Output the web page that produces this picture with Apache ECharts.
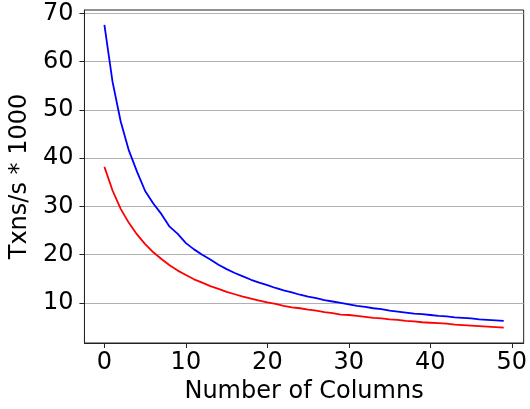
<!DOCTYPE html>
<html>
<head>
<meta charset="utf-8">
<script src="https://cdn.jsdelivr.net/npm/echarts@6/dist/echarts.min.js"></script>
<style>
  html, body { margin: 0; padding: 0; background: #fff; }
  #chart { width: 530px; height: 409px; }
</style>
</head>
<body>
<div id="chart"></div>
<script>
var columns = [];
for (var i = 0; i < 50; i++) columns.push(i);

var blueTxns = [67.6, 55.8, 47.6, 41.6, 37.2, 33.2, 30.6, 28.4, 25.8, 24.3,
                22.4, 21.1, 20.0, 19.0, 17.9, 17.0, 16.2, 15.5, 14.8, 14.2,
                13.7, 13.1, 12.6, 12.2, 11.7, 11.3, 11.0, 10.6, 10.3, 10.0,
                9.7, 9.4, 9.2, 8.9, 8.7, 8.4, 8.2, 8.0, 7.8, 7.7,
                7.5, 7.3, 7.2, 7.0, 6.9, 6.8, 6.6, 6.5, 6.4, 6.3];

var redTxns = [38.2, 33.3, 29.5, 26.6, 24.2, 22.2, 20.5, 19.1, 17.8, 16.7,
               15.8, 14.9, 14.2, 13.5, 12.9, 12.3, 11.8, 11.3, 10.9, 10.5,
               10.1, 9.8, 9.4, 9.1, 8.9, 8.6, 8.4, 8.1, 7.9, 7.6,
               7.5, 7.3, 7.1, 6.9, 6.8, 6.6, 6.5, 6.3, 6.2, 6.0,
               5.9, 5.8, 5.7, 5.5, 5.4, 5.3, 5.2, 5.1, 5.0, 4.9];

var xTicks = [0, 10, 20, 30, 40, 50];
var yTicks = [10, 20, 30, 40, 50, 60, 70];

function pairs(ys) {
    return columns.map(function (x, i) { return [x, ys[i]]; });
}

var myChart = echarts.init(document.getElementById('chart'));

var font = 'DejaVu Sans';

option = {
    backgroundColor: '#fff',
    animation: false,
    grid: {
        left: 80, right: 4, top: 10, bottom: 65,
        show: true,
        borderColor: '#222',
        borderWidth: 1
    },
    xAxis: {
        type: 'value',
        min: -2.45,
        max: 51.45,
        name: 'Number of Columns',
        nameLocation: 'middle',
        nameGap: 37,
        nameTextStyle: { fontFamily: font, fontSize: 24, color: '#000' },
        axisLine: { show: true, onZero: false, lineStyle: { color: '#222', width: 1 } },
        axisTick: { show: true, length: 5, inside: false, customValues: xTicks, lineStyle: { color: '#222' } },
        axisLabel: { customValues: xTicks, fontFamily: font, fontSize: 24, color: '#000', margin: 8 },
        splitLine: { show: false }
    },
    yAxis: {
        type: 'value',
        min: 1.7,
        max: 70.7,
        name: 'Txns/s * 1000',
        nameLocation: 'middle',
        nameGap: 50,
        nameTextStyle: { fontFamily: font, fontSize: 24, color: '#000' },
        axisLine: { show: true, onZero: false, lineStyle: { color: '#222', width: 1 } },
        axisTick: { show: true, length: 5, inside: false, customValues: yTicks, lineStyle: { color: '#222' } },
        axisLabel: { customValues: yTicks, fontFamily: font, fontSize: 24, color: '#000', margin: 11 },
        splitLine: { show: true, lineStyle: { color: '#b0b0b0', width: 1 } }
    },
    series: [
        {
            name: 'blue',
            type: 'line',
            data: pairs(blueTxns),
            showSymbol: false,
            lineStyle: { color: '#0000ff', width: 1.8 },
            itemStyle: { color: '#0000ff' }
        },
        {
            name: 'red',
            type: 'line',
            data: pairs(redTxns),
            showSymbol: false,
            lineStyle: { color: '#ff0000', width: 1.8 },
            itemStyle: { color: '#ff0000' }
        }
    ]
};

myChart.setOption(option);
</script>
</body>
</html>
